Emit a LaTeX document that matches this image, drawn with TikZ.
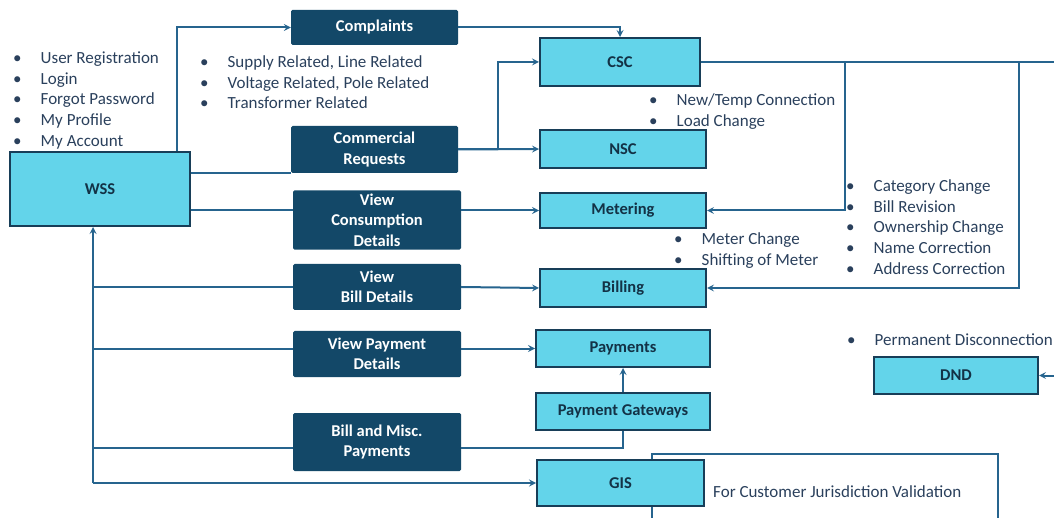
\documentclass[tikz,border=0pt]{standalone}
\usepackage{fontspec}
\setmainfont{Carlito}
\usetikzlibrary{positioning}

\definecolor{navy}{RGB}{19,72,104}
\definecolor{sky}{RGB}{99,212,234}
\definecolor{frame}{RGB}{24,62,88}
\definecolor{wire}{RGB}{38,100,142}
\definecolor{slate}{RGB}{42,64,92}
\newcommand{\bitem}[1]{\makebox[27.5pt][l]{\textbullet}#1}

\begin{document}
\begin{tikzpicture}[
x=1pt, y=-1pt,
request/.style={rectangle, fill=navy, rounded corners=1.5pt, text=white, font=\bfseries\fontsize{16.5}{20.5}\selectfont, align=center, minimum width=168pt},
system/.style={rectangle, draw=frame, line width=2pt, fill=sky, text=frame!80!black, font=\bfseries\fontsize{16.5}{20.5}\selectfont, minimum width=166pt},
notes/.style={anchor=north west, inner sep=0pt, align=left, text=slate, font=\fontsize{17}{20.7}\selectfont},
arrow/.style={->, >=stealth, draw=wire, line width=2pt},
link/.style={draw=wire, line width=2pt}
]
\useasboundingbox (0,0) rectangle (1054,518);

% Define nodes
\node (wss) [system, minimum width=180pt, minimum height=74pt] at (100,189) {WSS};
\node (complaints) [request, minimum width=167pt, minimum height=35pt] at (374.5,27.5) {Complaints};
\node (commercial) [request, minimum width=167pt, minimum height=47pt] at (374.5,149.5) {Commercial\\Requests};
\node (viewcons) [request, minimum height=58pt] at (377,220) {View\\Consumption\\Details};
\node (viewbill) [request, minimum height=46pt] at (377,287) {View\\Bill Details};
\node (viewpay) [request, minimum height=46pt] at (377,354) {View Payment\\Details};
\node (billmisc) [request, minimum height=58pt] at (377,442) {Bill and Misc.\\Payments};

\node (csc) [system, minimum width=160pt, minimum height=48pt] at (620,62) {CSC};
\node (nsc) [system, minimum height=38pt] at (623,149) {NSC};
\node (metering) [system, minimum height=35pt] at (623,210.5) {Metering};
\node (billing) [system, minimum height=38pt] at (623,288) {Billing};
\node (payments) [system, minimum width=174pt, minimum height=37pt] at (623,348.5) {Payments};
\node (gateways) [system, minimum width=174pt, minimum height=37pt] at (623,411.5) {Payment Gateways};
\node (gis_note) [rectangle, draw=wire, line width=1.5pt, minimum width=346pt, minimum height=66pt] at (825,487) {};
\node (gis) [system, minimum width=167pt, minimum height=46pt] at (620.5,483) {GIS};
\node (dnd) [system, minimum width=164pt, minimum height=37pt] at (956,375.5) {DND};

% Notes
\node (wss_list) [notes] at (13,51.5) {\bitem{User Registration}\\\bitem{Login}\\\bitem{Forgot Password}\\\bitem{My Profile}\\\bitem{My Account}};
\node (complaints_list) [notes] at (200,55.5) {\bitem{Supply Related, Line Related}\\\bitem{Voltage Related, Pole Related}\\\bitem{Transformer Related}};
\node (csc_list) [notes] at (649,93.5) {\bitem{New/Temp Connection}\\\bitem{Load Change}};
\node (meter_list) [notes] at (674,232.5) {\bitem{Meter Change}\\\bitem{Shifting of Meter}};
\node (billing_list) [notes] at (846,179.5) {\bitem{Category Change}\\\bitem{Bill Revision}\\\bitem{Ownership Change}\\\bitem{Name Correction}\\\bitem{Address Correction}};
\node (dnd_list) [notes] at (847,333.5) {\bitem{Permanent Disconnection}};
\node (gis_text) [notes, anchor=west] at (713,492) {For Customer Jurisdiction Validation};

% Coordinates
\coordinate (trunk) at (93,483);
\coordinate (misc_row) at (0,448);
\coordinate (meter_tap) at (845,62);
\coordinate (bill_tap) at (1019,62);
\coordinate (csc_out) at (1054,62);
\coordinate (dnd_in) at (1054,375.5);

% Arrows
\draw [arrow] ([xshift=-14pt]wss.north east) |- (complaints.west);
\draw [arrow] (complaints.east) -| (csc.north);
\draw [link] (wss.east |- commercial.south) -- (commercial.south west);
\draw [arrow] (commercial.east) -- (nsc.west);
\draw [arrow] (commercial.east) -- ++(40,0) |- (csc.west);
\draw [link] (wss.east |- metering.west) -- (viewcons.west |- metering.west);
\draw [arrow] (viewcons.east |- metering.west) -- (metering.west);
\draw [arrow] (viewbill.east) -- (billing.west);
\draw [arrow] (viewpay.east |- payments.west) -- (payments.west);
\draw [link] (billmisc.east |- misc_row) -| (gateways.south);
\draw [arrow] (gateways.north) -- (payments.south);

% WSS trunk
\draw [arrow] (trunk) -- (trunk |- wss.south);
\draw [link] (trunk |- viewbill.west) -- (viewbill.west);
\draw [link] (trunk |- payments.west) -- (viewpay.west |- payments.west);
\draw [link] (trunk |- misc_row) -- (billmisc.west |- misc_row);
\draw [arrow] (trunk) -- (gis.west);

% CSC outputs
\draw [link] (csc.east) -- (csc_out);
\draw [arrow] (meter_tap) |- (metering.east);
\draw [arrow] (bill_tap) |- (billing.east);
\draw [arrow] (dnd_in) -- (dnd.east);

\end{tikzpicture}
\end{document}
